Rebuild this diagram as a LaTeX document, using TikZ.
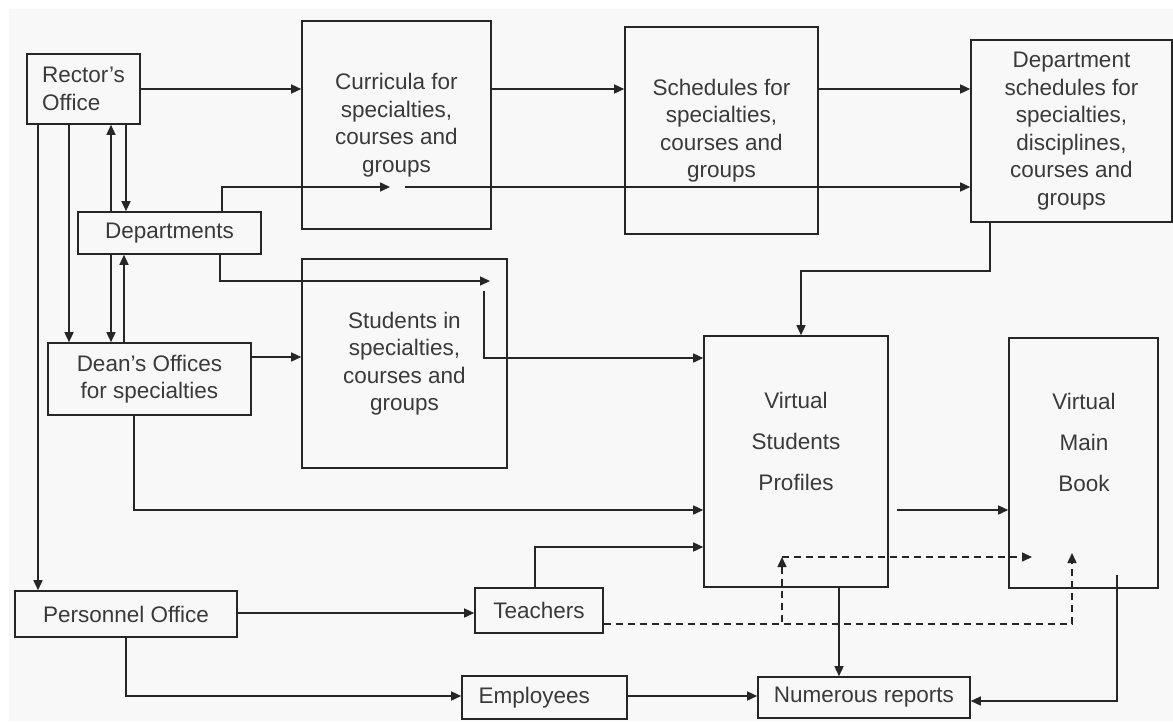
\documentclass[tikz,border=0pt]{standalone}
\usepackage{fontspec}
\setmainfont{Liberation Sans}
\usetikzlibrary{arrows.meta}
\definecolor{bgc}{HTML}{F8F8F8}
\definecolor{ln}{HTML}{262626}
\definecolor{tx}{HTML}{3A3A3A}
\begin{document}
\begin{tikzpicture}[x=1pt,y=-1pt,
  box/.style={draw=ln, line width=1.6pt, inner sep=0pt, align=center, text=tx,
    font=\fontsize{22.5}{27.5}\selectfont},
  lbl/.style={inner sep=0pt, align=center, text=tx, font=\fontsize{22.5}{41}\selectfont},
  arr/.style={draw=ln, line width=1.5pt, -{Triangle[length=10pt,width=9pt]}},
  dasharr/.style={arr, dash pattern=on 7pt off 5pt}
]
\useasboundingbox (0,0) rectangle (1173,721);
\fill[white] (0,0) rectangle (1173,721);
\fill[bgc] (9,9) rectangle (1173,721);

% nodes
\node[box, align=left, minimum width=113pt, minimum height=70pt] (rector) at (83.5,89) {Rector's\\Office};
\node[box, minimum width=183pt, minimum height=42pt] (dept) at (169.5,233) {Departments};
\node[box, minimum width=203pt, minimum height=72pt] (dean) at (149.5,379) {Dean's Offices\\for specialties};
\node[box, minimum width=222pt, minimum height=46pt] (pers) at (126,614) {Personnel Office};
\node[box, minimum width=128pt, minimum height=45pt] (teach) at (539,610.5) {Teachers};
\node[box, minimum width=165pt, minimum height=43pt] (empl) at (544.5,697.5) {\makebox[132pt][l]{Employees}};
\node[box, minimum width=212pt, minimum height=41pt] (rep) at (864,697.5) {Numerous reports};
\node[box, minimum width=189pt, minimum height=208pt] (curr) at (396.5,125) {Curricula for\\specialties,\\courses and\\groups};
\node[box, minimum width=193pt, minimum height=207pt] (sched) at (721.5,130.5) {Schedules for\\specialties,\\courses and\\groups};
\node[box, minimum width=201pt, minimum height=182pt] (dsched) at (1071.5,131) {Department\\schedules for\\specialties,\\disciplines,\\courses and\\groups};
\node[box, minimum width=205pt, minimum height=209pt] (stud) at (404.5,363.5) {Students in\\specialties,\\courses and\\groups};
\node[box, minimum width=184pt, minimum height=251pt] (vsp) at (796,461.5) {};
\node[lbl] (vspt) at (796,441) {Virtual\\Students\\Profiles};
\node[box, minimum width=149pt, minimum height=250pt] (vmb) at (1083.5,463) {};
\node[lbl] (vmbt) at (1084,442) {Virtual\\Main\\Book};

% free ends
\coordinate (c1) at (390,187);
\coordinate (c2) at (405,187);
\coordinate (c3) at (490,281);
\coordinate (c4) at (484,291);
\coordinate (c5) at (1117,575);
\coordinate (c6) at (897,510);
\coordinate (c7) at (782,557);
\coordinate (c8) at (1032,557);
\coordinate (c9) at (1072,553);

% top row
\draw[arr] (rector.east) -- (rector.east -| curr.west);
\draw[arr] (curr.east |- 0,89) -- (sched.west |- 0,89);
\draw[arr] (sched.east |- 0,89) -- (dsched.west |- 0,89);

% left verticals
\draw[arr] (dept.north -| 111,0) -- (rector.south -| 111,0);
\draw[arr] (rector.south -| 126,0) -- (dept.north -| 126,0);
\draw[arr] (dept.south -| 111,0) -- (dean.north -| 111,0);
\draw[arr] (dean.north -| 124,0) -- (dept.south -| 124,0);
\draw[arr] (rector.south -| 69,0) -- (dean.north -| 69,0);
\draw[arr] (rector.south -| 38,0) -- (pers.north -| 38,0);

% departments
\draw[arr] (dept.north -| 222,0) |- (c1);
\draw[arr] (c2) -- (c2 -| dsched.west);
\draw[arr] (dept.south -| 220,0) |- (c3);
\draw[arr] (c4) |- (vsp.west |- 0,358);

% dean's
\draw[arr] (dean.east |- 0,357) -- (stud.west |- 0,357);
\draw[arr] (dean.south -| 134,0) |- (vsp.west |- 0,510);

% department schedules to profiles
\draw[arr] (dsched.south -| 990,0) -- (990,271) -| (vsp.north -| 801,0);

% teachers, personnel, employees
\draw[arr] (teach.north -| 535,0) |- (vsp.west |- 0,547);
\draw[arr] (pers.east |- 0,613) -- (teach.west |- 0,613);
\draw[arr] (pers.south) |- (empl.west |- 0,696);
\draw[arr] (empl.east |- 0,696) -- (rep.west |- 0,696);

% reports
\draw[arr] (vsp.south -| 839,0) -- (rep.north -| 839,0);
\draw[arr] (c5) |- (rep.east |- 0,701);
\draw[arr] (c6) -- (c6 -| vmb.west);

% dashed
\draw[dasharr] (teach.east |- 0,624) -| (c7);
\draw[dasharr] (c7) -- (c8);
\draw[dasharr] (teach.east |- 0,624) -| (c9);
\end{tikzpicture}
\end{document}
